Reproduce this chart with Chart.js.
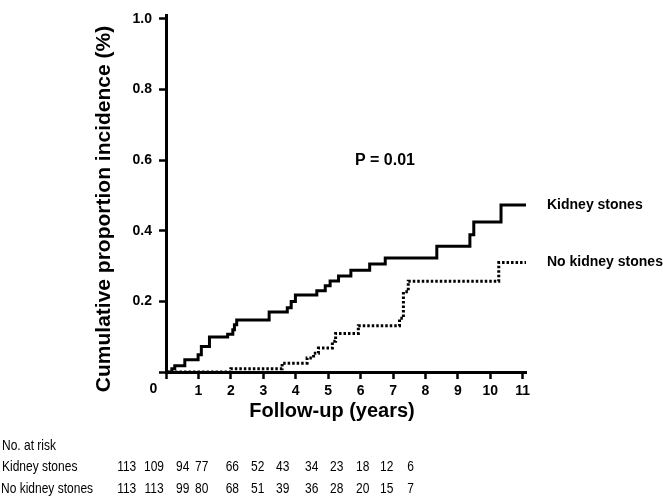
<!DOCTYPE html>
<html><head><meta charset="utf-8">
<script src="https://cdn.jsdelivr.net/npm/chart.js@4/dist/chart.umd.min.js"></script>
<style>html,body{margin:0;padding:0;background:#fff;}canvas{display:block;}</style>
</head><body>
<canvas id="c" width="663" height="497"></canvas>
<script>
// ---- data ----
const seriesLabels = ['Kidney stones', 'No kidney stones'];
const ksTimes  = [0, 0.18, 0.27, 0.58, 0.99, 1.09, 1.34, 1.9, 2.06, 2.11, 2.18, 3.18, 3.74, 3.86, 3.99, 4.65, 4.91, 5.06, 5.32, 5.7, 6.28, 6.76, 8.35, 9.37, 9.49, 10.33, 11.1];
const ksValues = [0, 0.009, 0.018, 0.035, 0.049, 0.072, 0.099, 0.107, 0.12, 0.134, 0.147, 0.17, 0.182, 0.2, 0.218, 0.23, 0.244, 0.258, 0.272, 0.288, 0.306, 0.323, 0.356, 0.389, 0.425, 0.473, 0.473];
const nksTimes  = [0, 2.0, 3.58, 4.35, 4.55, 4.7, 5.13, 5.23, 5.93, 7.2, 7.32, 7.47, 10.26, 11.1];
const nksValues = [0, 0.009, 0.025, 0.04, 0.053, 0.068, 0.087, 0.109, 0.131, 0.152, 0.227, 0.257, 0.31, 0.31];
const xTickValues = [0, 1, 2, 3, 4, 5, 6, 7, 8, 9, 10, 11];
const yTickValues = [0, 0.2, 0.4, 0.6, 0.8, 1.0];
const xTitle = 'Follow-up (years)';
const yTitle = 'Cumulative proportion incidence (%)';
const pValueText = 'P = 0.01';
const riskHeader = 'No. at risk';
const riskKidney   = [113, 109, 94, 77, 66, 52, 43, 34, 23, 18, 12, 6];
const riskNoKidney = [113, 113, 99, 80, 68, 51, 39, 36, 28, 20, 15, 7];

// ---- layout constants ----
const FONT = "'Liberation Sans', Arial, Helvetica, sans-serif";
const riskCols = [126.7, 154, 182.7, 201.7, 232.3, 257.7, 282.7, 311.7, 336.7, 362.7, 386.7, 410.7];
const riskRowsY = [446, 467, 489];

function pts(t, v) { return t.map((x, i) => ({x: x, y: v[i]})); }

const extras = {
  id: 'extras',
  afterDraw(chart) {
    const ctx = chart.ctx, xs = chart.scales.x, ys = chart.scales.y, ca = chart.chartArea;
    ctx.save();
    ctx.fillStyle = '#000';
    // y title
    ctx.save();
    ctx.translate(110, 209);
    ctx.rotate(-Math.PI / 2);
    ctx.font = 'bold 21px ' + FONT;
    ctx.textAlign = 'center';
    ctx.textBaseline = 'alphabetic';
    ctx.fillText(yTitle, 0, 0);
    ctx.restore();
    // x title
    ctx.font = 'bold 20px ' + FONT;
    ctx.textAlign = 'center';
    ctx.textBaseline = 'alphabetic';
    ctx.fillText(xTitle, 332, 417);
    // origin label
    ctx.font = 'bold 14px ' + FONT;
    ctx.textBaseline = 'middle';
    ctx.fillText('0', xs.getPixelForValue(0) - 12.5, 389.5);
    // p value
    ctx.font = 'bold 16px ' + FONT;
    ctx.fillText(pValueText, xs.getPixelForValue(6.75), ys.getPixelForValue(0.6));
    // series labels at line ends
    ctx.font = 'bold 14px ' + FONT;
    ctx.textAlign = 'left';
    ctx.fillText(seriesLabels[0], ca.right + 21, ys.getPixelForValue(ksValues[ksValues.length - 1]));
    ctx.fillText(seriesLabels[1], ca.right + 21, ys.getPixelForValue(nksValues[nksValues.length - 1]));
    // risk table
    const sx = 0.8;
    function narrow(text, x, y, align) {
      ctx.save();
      ctx.translate(x, y);
      ctx.scale(sx, 1);
      ctx.textAlign = align;
      ctx.fillText(text, 0, 0);
      ctx.restore();
    }
    ctx.font = '15px ' + FONT;
    ctx.textBaseline = 'middle';
    narrow(riskHeader, 2, riskRowsY[0], 'left');
    narrow(seriesLabels[0], 2, riskRowsY[1], 'left');
    narrow(seriesLabels[1], 1, riskRowsY[2], 'left');
    riskKidney.forEach((n, i) => narrow(String(n), riskCols[i], riskRowsY[1], 'center'));
    riskNoKidney.forEach((n, i) => narrow(String(n), riskCols[i], riskRowsY[2], 'center'));
    ctx.restore();
  }
};

new Chart(document.getElementById('c').getContext('2d'), {
  type: 'line',
  data: {
    datasets: [
      {label: seriesLabels[0], data: pts(ksTimes, ksValues), borderColor: '#000', borderWidth: 3,
       stepped: 'before', pointRadius: 0, fill: false, borderCapStyle: 'butt'},
      {label: seriesLabels[1], data: pts(nksTimes, nksValues), borderColor: '#000', borderWidth: 3,
       borderDash: [2.5, 2], stepped: 'before', pointRadius: 0, fill: false, borderCapStyle: 'butt'}
    ]
  },
  options: {
    responsive: false, animation: false, devicePixelRatio: 1,
    layout: {padding: {left: 0, right: 137, top: 5, bottom: 85}},
    plugins: {legend: {display: false}, tooltip: {enabled: false}},
    scales: {
      x: {
        type: 'linear', min: 0, max: 11.1,
        afterBuildTicks: s => { s.ticks = xTickValues.map(v => ({value: v})); },
        afterFit: s => { s.height = 40; },
        ticks: {callback: v => v === 0 ? '' : String(v), color: '#000', padding: 4, maxRotation: 0, autoSkip: false,
                font: {family: FONT, size: 14, weight: 'bold'}},
        grid: {drawOnChartArea: false, drawTicks: true, tickLength: 7, tickWidth: 2.5, tickColor: '#000'},
        border: {display: true, color: '#000', width: 3}
      },
      y: {
        type: 'linear', min: 0, max: 1.01,
        afterBuildTicks: s => { s.ticks = yTickValues.map(v => ({value: v})); },
        afterFit: s => { s.width = 166; },
        ticks: {callback: v => v === 0 ? '' : v.toFixed(1), color: '#000', padding: 7,
                font: {family: FONT, size: 14, weight: 'bold'}},
        grid: {drawOnChartArea: false, drawTicks: true, tickLength: 7, tickWidth: 2.5, tickColor: '#000'},
        border: {display: true, color: '#000', width: 3}
      }
    }
  },
  plugins: [extras]
});
</script>
</body></html>
